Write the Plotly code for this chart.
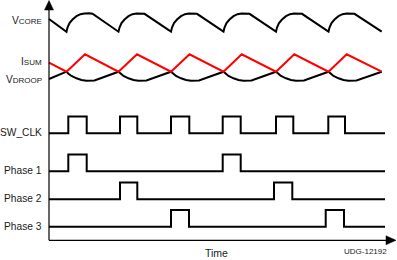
import plotly.graph_objects as go

# ---------------- data (time in arbitrary units, 0 = vertical axis) ----------------
# V_CORE waveform
vcore_t = [0, 17.5, 18.5, 20.5, 23.5, 27.5, 31.5, 35.5, 40.5, 43.5,
           69.5, 70.5, 72.5, 75.5, 79.5, 83.5, 87.5, 92.5, 95.5,
           122, 123, 125, 128, 132, 136, 140, 145, 148,
           174.5, 175.5, 177.5, 180.5, 184.5, 188.5, 192.5, 197.5, 200.5,
           227, 228, 230, 233, 237, 241, 245, 250, 253,
           279.5, 280.5, 282.5, 285.5, 289.5, 293.5, 297.5, 302.5, 305.5,
           332.7]
vcore_v = [221.0,
           208.3, 212.5, 217.0, 220.5, 223.8, 225.8, 226.6, 226.7, 226.2,
           208.3, 212.5, 217.0, 220.5, 223.8, 225.8, 226.6, 226.7, 226.2,
           208.3, 212.5, 217.0, 220.5, 223.8, 225.8, 226.6, 226.7, 226.2,
           208.3, 212.5, 217.0, 220.5, 223.8, 225.8, 226.6, 226.7, 226.2,
           208.3, 212.5, 217.0, 220.5, 223.8, 225.8, 226.6, 226.7, 226.2,
           208.3, 212.5, 217.0, 220.5, 223.8, 225.8, 226.6, 226.7, 226.2,
           208.3]

# I_SUM waveform (red)
isum_t = [0, 17.5, 36, 69.5, 88, 122, 140.5, 174.5, 192.7, 227, 245.3, 279.5, 297.7, 332.7]
isum_v = [177.3, 168.3, 185.7, 168.3, 185.7, 168.3, 185.7, 168.3, 185.7, 168.3, 185.7,
          168.3, 185.7, 168.3]

# V_DROOP waveform
vdroop_t = [0,
            17.5, 19.5, 22.5, 27.5, 32.5, 37.5, 42.5, 45.5,
            69.5, 71.5, 74.5, 79.5, 84.5, 89.5, 94.5, 97.5,
            122, 124, 127, 132, 137, 142, 147, 150,
            174.5, 176.5, 179.5, 184.5, 189.5, 194.5, 199.5, 202.5,
            227, 229, 232, 237, 242, 247, 252, 255,
            279.5, 281.5, 284.5, 289.5, 294.5, 299.5, 304.5, 307.5,
            332.7]
vdroop_v = [161.0,
            168.3, 166.3, 164.0, 161.7, 160.0, 159.3, 159.3, 159.6,
            168.3, 166.3, 164.0, 161.7, 160.0, 159.3, 159.3, 159.6,
            168.3, 166.3, 164.0, 161.7, 160.0, 159.3, 159.3, 159.6,
            168.3, 166.3, 164.0, 161.7, 160.0, 159.3, 159.3, 159.6,
            168.3, 166.3, 164.0, 161.7, 160.0, 159.3, 159.3, 159.6,
            168.3, 166.3, 164.0, 161.7, 160.0, 159.3, 159.3, 159.6,
            168.3]

# Digital signals: pulse rising / falling edge times
clk_rise = [19.3, 71.0, 122.0, 173.7, 227.0, 279.3]
clk_fall = [37.7, 88.3, 140.3, 191.7, 244.3, 296.0]
ph1_rise = [19.3, 173.7]
ph1_fall = [37.7, 191.7]
ph2_rise = [71.0, 225.0]
ph2_fall = [88.3, 243.3]
ph3_rise = [122.0, 276.7]
ph3_fall = [140.0, 295.0]
digital_end = 336.0

digital_names = ["SW_CLK", "Phase 1", "Phase 2", "Phase 3"]

# ---------------- layout constants ----------------
lane_low = [106.7, 68.7, 40.7, 13.3]
lane_amp = 16.8
FONT = "Liberation Sans, Arial, sans-serif"

fig = go.Figure()

fig.add_trace(go.Scatter(x=vcore_t, y=vcore_v, mode="lines",
                         line=dict(color="black", width=2)))
fig.add_trace(go.Scatter(x=vdroop_t, y=vdroop_v, mode="lines",
                         line=dict(color="black", width=2)))
fig.add_trace(go.Scatter(x=isum_t, y=isum_v, mode="lines",
                         line=dict(color="#ff0000", width=2)))

edges = [(clk_rise, clk_fall), (ph1_rise, ph1_fall), (ph2_rise, ph2_fall), (ph3_rise, ph3_fall)]
for (rises, falls), lo in zip(edges, lane_low):
    xs = [0.0]
    ys = [0]
    for r, f in zip(rises, falls):
        xs += [r, f]
        ys += [1, 0]
    xs.append(digital_end)
    ys.append(0)
    fig.add_trace(go.Scatter(x=xs, y=[lo + v * lane_amp for v in ys], mode="lines",
                             line=dict(color="black", width=2, shape="hv")))

# axes with arrows
shapes = [
    dict(type="line", x0=0, y0=-0.3, x1=0, y1=232, line=dict(color="black", width=1.2)),
    dict(type="path", path="M -4.5,230 L 4.5,230 L 0,239.5 Z", fillcolor="black",
         line=dict(color="black", width=0.5)),
    dict(type="line", x0=0, y0=-0.3, x1=339, y1=-0.3, line=dict(color="black", width=1.2)),
    dict(type="path", path="M 337,-4.8 L 337,4.2 L 347,-0.3 Z", fillcolor="black",
         line=dict(color="black", width=0.5)),
]

annotations = []
def label(text, y, size=10.2):
    annotations.append(dict(x=-5.5, y=y, text=text, showarrow=False, xanchor="right",
                            yanchor="middle", font=dict(family=FONT, size=size, color="#1a1a1a")))

label("V<span style='font-size:8px'>CORE</span>", 219.5)
label("I<span style='font-size:8px'>SUM</span>", 178.5)
label("V<span style='font-size:8px'>DROOP</span>", 161.0)
for name, lo in zip(digital_names, lane_low):
    label(name, lo + 0.6)

annotations.append(dict(x=167.5, y=-12.7, text="Time", showarrow=False, xanchor="center",
                        yanchor="middle", font=dict(family=FONT, size=10.5, color="#1a1a1a")))
annotations.append(dict(x=316.5, y=-11.5, text="UDG-12192", showarrow=False, xanchor="center",
                        yanchor="middle", font=dict(family=FONT, size=8, color="#1a1a1a")))

fig.update_layout(
    width=397, height=260,
    margin=dict(l=0, r=0, t=0, b=0),
    paper_bgcolor="white", plot_bgcolor="white",
    showlegend=False,
    xaxis=dict(range=[-49, 348], visible=False, fixedrange=True),
    yaxis=dict(range=[-20, 240], visible=False, fixedrange=True),
    shapes=shapes,
    annotations=annotations,
)

fig.write_html("out.html", config={"displayModeBar": False})
